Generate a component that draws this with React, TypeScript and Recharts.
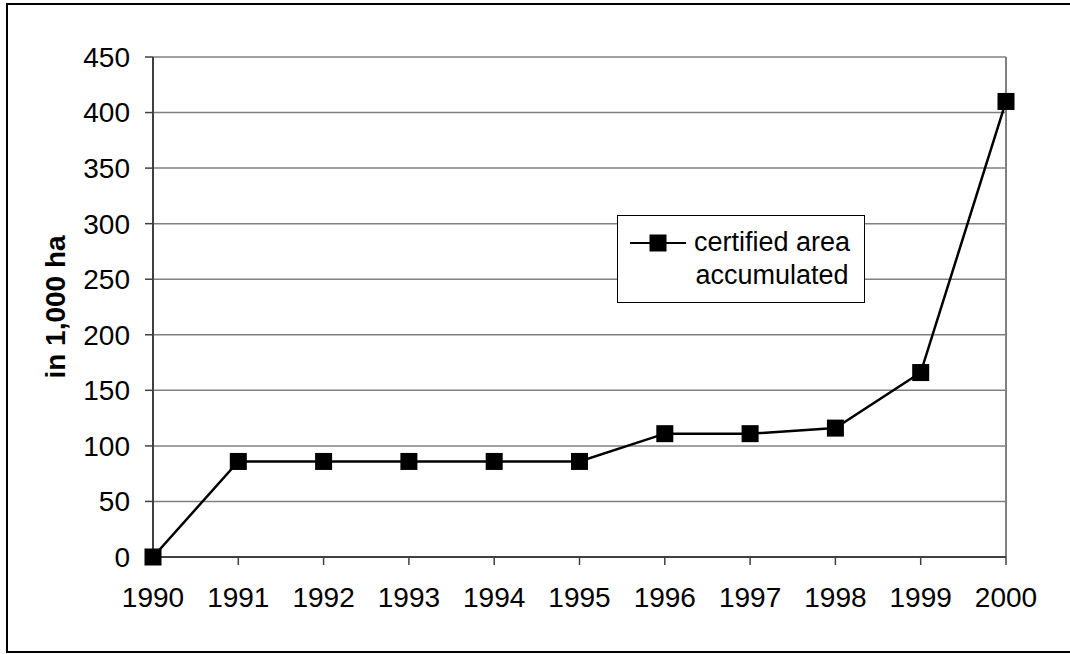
import { LineChart, Line, XAxis, YAxis, CartesianGrid, Legend, ReferenceLine } from "recharts";

const years = ["1990", "1991", "1992", "1993", "1994", "1995", "1996", "1997", "1998", "1999", "2000"];
const certifiedArea = [0, 86, 86, 86, 86, 86, 111, 111, 116, 166, 410];
const yTicks = [0, 50, 100, 150, 200, 250, 300, 350, 400, 450];

const data = years.map((year, i) => ({ year, area: certifiedArea[i] }));

const FONT = "'Liberation Sans', Arial, sans-serif";
const FS = 28;

const Square = (props: any) => {
  const { cx, cy, index } = props;
  if (cx == null || cy == null) return <g key={index} />;
  return <rect key={index} x={cx - 8.5} y={cy - 8.5} width={17} height={17} fill="#000" />;
};

const LegendBox = () => (
  <div
    style={{
      width: 246,
      height: 86,
      border: "1px solid #000",
      background: "#fff",
      display: "flex",
      alignItems: "center",
      fontFamily: FONT,
      fontSize: 27,
      color: "#000",
      boxSizing: "content-box",
    }}
  >
    <svg width={66} height={30} style={{ marginLeft: 10, marginTop: -33, flexShrink: 0 }}>
      <line x1={2} y1={15} x2={58} y2={15} stroke="#000" strokeWidth={2} />
      <rect x={21.5} y={6.5} width={17} height={17} fill="#000" />
    </svg>
    <div style={{ lineHeight: "33px", textAlign: "center", whiteSpace: "nowrap" }}>
      certified area
      <br />
      accumulated
    </div>
  </div>
);

export default function App() {
  return (
    <div style={{ position: "absolute", left: 0, top: 0, width: 1070, height: 654, background: "#fff" }}>
      <svg width={1070} height={654} style={{ position: "absolute", left: 0, top: 0 }}>
        <rect x={7} y={4} width={1070} height={648} fill="none" stroke="#000" strokeWidth={2} />
      </svg>
      <div style={{ position: "absolute", left: 0, top: 0 }}>
        <LineChart width={1070} height={654} data={data} margin={{ top: 57, right: 64, left: 0, bottom: 37 }}>
          <CartesianGrid vertical={false} stroke="#808080" strokeWidth={1.5} />
          <ReferenceLine x="2000" stroke="#808080" strokeWidth={2} />
          <XAxis
            dataKey="year"
            height={60}
            axisLine={{ stroke: "#404040", strokeWidth: 2 }}
            tickLine={{ stroke: "#404040", strokeWidth: 1.5 }}
            tickSize={8}
            tickMargin={22}
            interval={0}
            tick={{ fontFamily: FONT, fontSize: FS, fill: "#000" }}
          />
          <YAxis
            width={153}
            domain={[0, 450]}
            ticks={yTicks}
            interval={0}
            axisLine={{ stroke: "#404040", strokeWidth: 2 }}
            tickLine={{ stroke: "#404040", strokeWidth: 1.5 }}
            tickSize={8}
            tickMargin={15}
            tick={{ fontFamily: FONT, fontSize: FS, fill: "#000" }}
            label={{
              content: ({ viewBox }: any) => {
                const cx = viewBox.x + 55;
                const cy = viewBox.y + viewBox.height / 2;
                return (
                  <text
                    x={cx}
                    y={cy}
                    transform={`rotate(-90 ${cx} ${cy})`}
                    textAnchor="middle"
                    dominantBaseline="central"
                    fontFamily={FONT}
                    fontSize={FS}
                    fontWeight="bold"
                    fill="#000"
                  >
                    in 1,000 ha
                  </text>
                );
              },
            }}
          />
          <Legend
            layout="horizontal"
            verticalAlign="middle"
            align="center"
            content={<LegendBox />}
            wrapperStyle={{ left: 617, top: 215, width: 248 }}
          />
          <Line
            dataKey="area"
            stroke="#000"
            strokeWidth={2.5}
            type="linear"
            dot={<Square />}
            activeDot={false}
            isAnimationActive={false}
          />
        </LineChart>
      </div>
    </div>
  );
}
